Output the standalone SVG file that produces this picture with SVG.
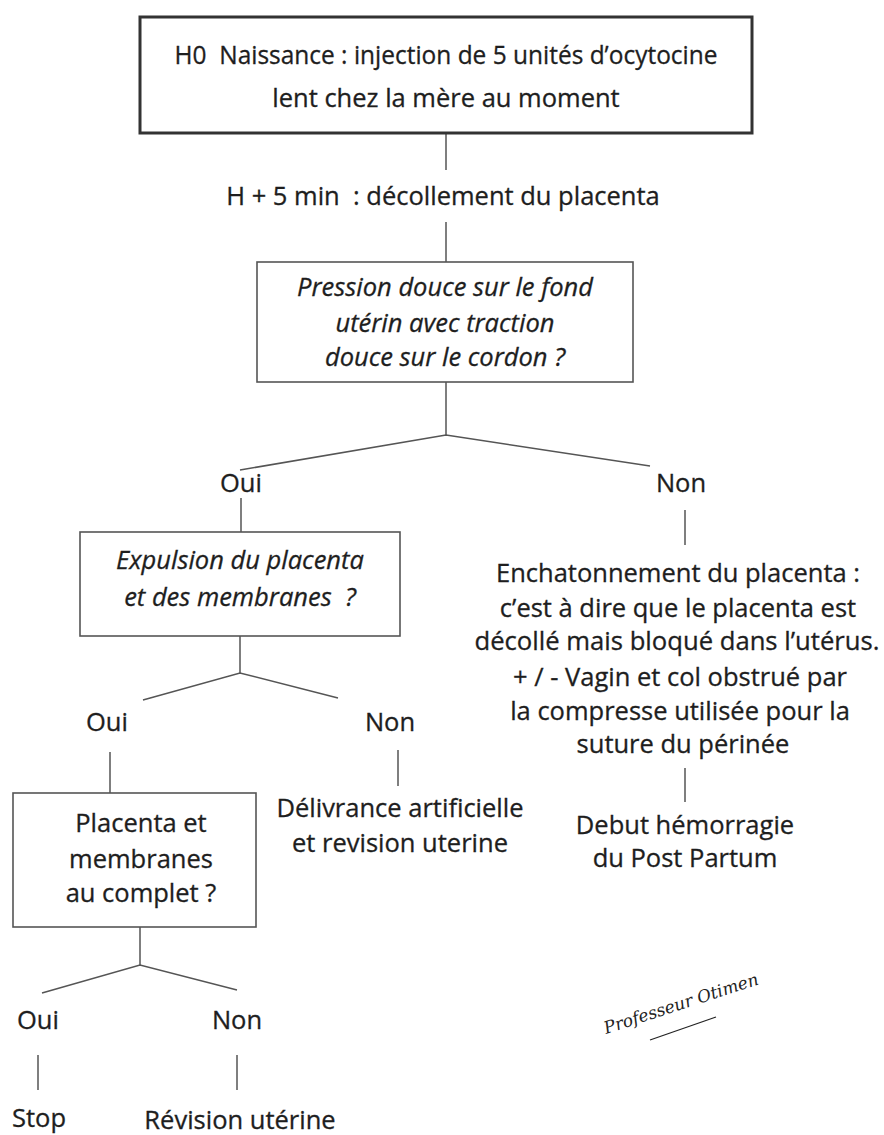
<svg xmlns="http://www.w3.org/2000/svg" width="884" height="1135" viewBox="0 0 884 1135">
  <style>
    .t { font-family: "Open Sans", "Noto Sans", "Liberation Sans", sans-serif; font-size: 25.5px; fill: #1e1e1e; stroke: #1e1e1e; stroke-width: 0.3; text-anchor: middle; white-space: pre; }
    .i { font-style: italic; }
    .box { fill: #fff; stroke: #555; stroke-width: 1.6; }
    .box-main { fill: #fff; stroke: #333; stroke-width: 3; }
    .link { fill: none; stroke: #555; stroke-width: 1.5; }
    .sig { font-family: "DejaVu Serif", "Liberation Serif", serif; font-style: italic; font-size: 17px; fill: #222; }
  </style>
  <rect width="884" height="1135" fill="#fff"/>

  <!-- connectors -->
  <g id="connectors" class="link">
    <line x1="446" y1="133" x2="446" y2="170"/>
    <line x1="446" y1="222" x2="446" y2="262"/>
    <polyline points="446,382 446,435"/>
    <polyline points="240,470 446,435 650,466"/>
    <line x1="241" y1="498" x2="241" y2="532"/>
    <line x1="685" y1="510" x2="685" y2="545"/>
    <line x1="240" y1="636" x2="240" y2="673"/>
    <polyline points="143,700 240,673 338,698"/>
    <line x1="110" y1="752" x2="110" y2="793"/>
    <line x1="398" y1="750" x2="398" y2="786"/>
    <line x1="685" y1="768" x2="685" y2="802"/>
    <line x1="140" y1="927" x2="140" y2="965"/>
    <polyline points="42,993 140,965 237,990"/>
    <line x1="38" y1="1055" x2="38" y2="1090"/>
    <line x1="237" y1="1055" x2="237" y2="1090"/>
  </g>

  <!-- H0 -->
  <g id="n-h0">
    <rect class="box-main" x="140" y="17" width="612" height="116"/>
    <text class="t" x="446" y="64" textLength="543" lengthAdjust="spacingAndGlyphs">H0  Naissance : injection de 5 unités d’ocytocine</text>
    <text class="t" x="446" y="107">lent chez la mère au moment</text>
  </g>

  <!-- H + 5 min -->
  <g id="n-h5">
    <text class="t" x="443" y="205">H + 5 min  : décollement du placenta</text>
  </g>

  <!-- first question -->
  <g id="n-pression">
    <rect class="box" x="257" y="262" width="376" height="120"/>
    <text class="t i" x="445" y="296">Pression douce sur le fond</text>
    <text class="t i" x="445" y="332">utérin avec traction</text>
    <text class="t i" x="445" y="366">douce sur le cordon ?</text>
  </g>

  <g id="n-oui1"><text class="t" x="241" y="492">Oui</text></g>
  <g id="n-non1"><text class="t" x="681" y="492">Non</text></g>

  <!-- second question -->
  <g id="n-expulsion">
    <rect class="box" x="80" y="532" width="320" height="104"/>
    <text class="t i" x="240" y="569">Expulsion du placenta</text>
    <text class="t i" x="240" y="606">et des membranes  ?</text>
  </g>

  <!-- retained placenta -->
  <g id="n-enchatonnement">
    <text class="t" x="678" y="582">Enchatonnement du placenta :</text>
    <text class="t" x="678" y="617">c’est à dire que le placenta est</text>
    <text class="t" x="677" y="650" textLength="405" lengthAdjust="spacingAndGlyphs">décollé mais bloqué dans l’utérus.</text>
    <text class="t" x="680" y="686">+ / - Vagin et col obstrué par</text>
    <text class="t" x="680" y="720">la compresse utilisée pour la</text>
    <text class="t" x="683" y="753">suture du périnée</text>
  </g>

  <g id="n-hemorragie">
    <text class="t" x="685" y="834">Debut hémorragie</text>
    <text class="t" x="685" y="867">du Post Partum</text>
  </g>

  <g id="n-oui2"><text class="t" x="107" y="731">Oui</text></g>
  <g id="n-non2"><text class="t" x="390" y="731">Non</text></g>

  <!-- third question -->
  <g id="n-complet">
    <rect class="box" x="13" y="793" width="243" height="134"/>
    <text class="t" x="141" y="832">Placenta et</text>
    <text class="t" x="141" y="868">membranes</text>
    <text class="t" x="141" y="902">au complet ?</text>
  </g>

  <g id="n-delivrance">
    <text class="t" x="400" y="817">Délivrance artificielle</text>
    <text class="t" x="400" y="852">et revision uterine</text>
  </g>

  <g id="n-oui3"><text class="t" x="38" y="1029">Oui</text></g>
  <g id="n-non3"><text class="t" x="237" y="1029">Non</text></g>

  <g id="n-stop"><text class="t" x="39" y="1127">Stop</text></g>
  <g id="n-revision"><text class="t" x="240" y="1129">Révision utérine</text></g>

  <!-- signature -->
  <g id="signature">
    <text class="sig" x="606" y="1034" transform="rotate(-18 606 1034)">Professeur Otimen</text>
    <path d="M650 1040 L716 1017" fill="none" stroke="#222" stroke-width="1.2"/>
  </g>
</svg>
